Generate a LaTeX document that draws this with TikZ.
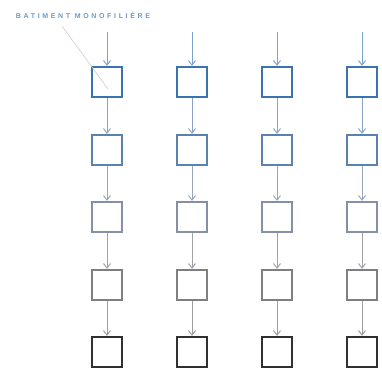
\documentclass[tikz,border=0pt]{standalone}
\usepackage{fontspec}
\setmainfont{Liberation Sans}
\newfontfamily\labelfont[LetterSpace=38]{Liberation Sans}
\usetikzlibrary{arrows.meta}
\definecolor{rowA}{HTML}{3B72B2}
\definecolor{rowB}{HTML}{5A82B0}
\definecolor{rowC}{HTML}{8590A6}
\definecolor{rowD}{HTML}{7F7F7F}
\definecolor{rowE}{HTML}{303030}
\definecolor{arrA}{HTML}{7FA3CC}
\definecolor{arrB}{HTML}{8AA3C4}
\definecolor{arrC}{HTML}{9AA5B8}
\definecolor{arrD}{HTML}{A0A2AA}
\definecolor{arrE}{HTML}{9C9C9C}
\definecolor{labelblue}{HTML}{6A9ACB}
\definecolor{leader}{HTML}{D8C8C8}
\tikzset{
  unitbox/.style={draw, line width=2.3pt, minimum width=30pt, minimum height=30pt, inner sep=0pt, fill=white},
  flow/.style={line width=1pt, -{Straight Barb[length=4.5pt,width=7pt]}},
}
\begin{document}
\begin{tikzpicture}[x=1pt,y=-1pt]
\useasboundingbox (0,0) rectangle (382,374);
\foreach \c/\x in {1/107,2/192,3/277,4/362}{
  \coordinate (s\c) at (\x,32);
  \node[unitbox, draw=rowA] (b\c1) at (\x,82) {};
  \node[unitbox, draw=rowB] (b\c2) at (\x,150) {};
  \node[unitbox, draw=rowC] (b\c3) at (\x,217) {};
  \node[unitbox, draw=rowD] (b\c4) at (\x,285) {};
  \node[unitbox, draw=rowE] (b\c5) at (\x,352) {};
  \draw[flow, arrA] (s\c) -- (b\c1.north);
  \draw[flow, arrB] (b\c1.south) -- (b\c2.north);
  \draw[flow, arrC] (b\c2.south) -- (b\c3.north);
  \draw[flow, arrD] (b\c3.south) -- (b\c4.north);
  \draw[flow, arrE] (b\c4.south) -- (b\c5.north);
}
\node[font=\labelfont\bfseries\fontsize{7}{8}\selectfont, text=labelblue, inner sep=0pt] (lbl) at (83,15) {BATIMENT MONOFILIÈRE};
\coordinate (lend) at (62,26);
\coordinate (ltip) at (108,89);
\draw[leader, line width=0.6pt] (lend) -- (ltip);
\end{tikzpicture}
\end{document}
